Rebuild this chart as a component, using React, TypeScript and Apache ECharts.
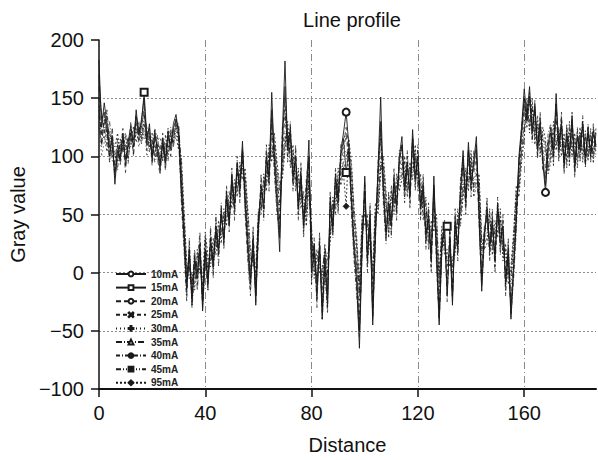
import React, { useEffect, useRef } from "react";
import * as echarts from "echarts";

const distance: number[] = Array.from({ length: 188 }, (_, i) => i);

const seriesNames = ["10mA", "15mA", "20mA", "25mA", "30mA", "35mA", "40mA", "45mA", "95mA"];

const s10 = [
  183,125,146,128,100,118,76,105,98,120,
  92,112,126,108,140,118,132,150,112,128,
  96,122,104,88,116,94,122,106,128,136,
  118,70,30,-15,20,-28,10,-5,25,-33,
  15,-10,30,5,40,15,55,25,70,40,
  85,55,95,70,113,60,20,-10,30,-28,
  40,75,55,100,80,155,95,60,18,120,
  182,105,125,80,100,55,85,40,70,114,
  0,20,-20,25,-40,10,-30,65,35,85,
  60,105,120,138,110,60,20,-10,-65,20,
  83,10,50,-45,30,90,151,70,30,60,
  40,80,55,100,117,70,95,65,123,80,
  100,55,75,30,50,10,83,15,-45,20,
  40,-20,30,-28,45,20,70,105,60,112,
  75,95,117,50,-16,30,55,20,45,10,
  60,25,40,-10,20,-40,0,45,100,125,
  158,135,160,120,145,105,130,95,69,110,
  125,100,154,105,130,92,120,100,135,90,
  118,105,130,95,125,100,122,108,
];

const s15 = [
  170,132,138,124,108,112,84,110,96,116,
  98,108,120,114,134,122,128,155,118,124,
  100,118,108,92,112,98,118,110,124,132,
  122,80,38,-8,15,-20,14,0,20,-25,
  20,-5,25,10,35,20,50,30,65,45,
  80,60,90,75,105,65,28,-5,25,-20,
  45,70,60,95,85,140,100,70,30,110,
  160,110,118,85,95,60,80,45,65,100,
  10,25,-10,20,-30,15,-20,60,40,80,
  65,100,115,86,105,65,25,0,-50,25,
  70,15,45,-35,35,85,130,75,35,55,
  45,75,60,95,110,75,90,70,115,85,
  95,60,70,35,45,15,75,20,-35,25,
  40,40,35,-20,40,25,65,95,65,105,
  80,90,110,55,-5,35,50,25,40,15,
  55,30,35,-5,15,-30,5,50,95,120,
  150,130,152,125,140,110,125,100,75,105,
  120,105,145,110,125,95,115,105,128,95,
  115,108,125,100,120,105,118,110,
];

const s20 = [
  150,110,132,120,95,125,88,100,108,114,
  86,118,120,102,130,112,126,138,105,120,
  92,116,98,84,110,90,118,100,120,128,
  112,65,25,-20,25,-22,5,0,30,-25,
  20,-15,35,0,45,20,50,30,60,45,
  78,50,90,65,105,55,15,-15,35,-20,
  35,80,50,105,75,130,90,55,40,115,
  150,100,120,75,105,50,90,35,75,95,
  -5,25,-25,30,-35,5,-25,55,40,80,
  55,100,110,125,100,55,15,-15,-55,25,
  75,5,55,-40,35,85,125,65,35,65,
  35,85,50,95,110,65,100,60,115,75,
  105,50,80,25,55,5,70,10,-40,25,
  35,-15,35,-20,50,15,75,100,55,105,
  70,100,105,45,-10,35,60,15,50,5,
  55,20,45,-15,25,-35,5,40,90,120,
  145,130,150,115,140,100,135,90,80,115,
  120,95,140,100,135,88,125,95,130,85,
  122,100,128,92,120,98,125,105,
];

const s25 = [
  140,118,128,136,104,108,82,98,104,124,
  96,106,130,100,136,114,128,142,108,116,
  102,114,110,94,120,88,114,112,122,130,
  115,75,35,-10,10,-20,15,-10,20,-28,
  25,-5,20,10,35,25,45,35,65,50,
  75,60,85,78,100,70,25,0,20,-15,
  50,65,65,90,90,120,105,75,45,100,
  135,115,110,90,90,65,75,50,60,90,
  15,15,-5,20,-25,20,-15,50,45,70,
  70,95,105,118,95,70,30,5,-40,30,
  65,25,40,-25,40,75,115,80,45,50,
  50,70,65,90,100,80,85,75,105,90,
  90,65,65,40,40,20,60,25,-30,30,
  30,-5,25,-15,35,30,60,90,70,95,
  85,85,100,60,0,40,45,30,35,20,
  50,35,30,0,10,-25,10,55,85,115,
  140,140,145,130,130,115,120,105,90,100,
  115,110,130,115,120,100,110,110,120,100,
  110,112,118,105,115,108,112,115,
];

const s30 = [
  130,100,112,125,96,104,90,102,110,118,
  104,100,115,110,125,108,120,130,100,112,
  108,110,96,100,106,100,110,104,115,125,
  110,85,45,0,15,-10,5,5,15,-15,
  30,0,15,15,30,30,40,40,55,55,
  70,65,80,80,95,75,35,10,15,-5,
  40,60,70,85,95,110,100,85,55,95,
  120,110,105,95,85,75,70,55,55,80,
  25,10,5,15,-15,15,-5,40,50,65,
  75,90,100,105,100,80,40,15,-25,35,
  55,35,35,-10,45,65,100,85,55,45,
  60,65,70,85,95,85,80,80,95,95,
  85,70,60,50,35,30,50,35,-15,25,
  35,5,20,0,30,40,55,80,75,85,
  90,80,90,70,15,35,40,40,30,30,
  45,40,25,10,5,-10,20,60,80,110,
  130,135,135,135,125,120,115,110,100,95,
  110,115,120,112,115,105,105,115,112,108,
  105,115,110,112,108,114,106,118,
];

const s35 = [
  160,135,120,140,112,96,95,115,92,110,
  110,98,118,122,128,126,115,135,125,108,
  115,100,118,95,104,110,102,120,112,132,
  125,90,40,-5,5,-15,20,-15,15,-20,
  30,5,10,20,25,35,35,45,50,60,
  65,70,75,85,90,80,40,5,15,-10,
  55,55,75,80,100,105,110,80,60,90,
  115,120,100,100,80,80,65,60,50,85,
  30,5,10,10,-5,25,0,35,55,60,
  80,85,95,100,105,85,45,20,-20,40,
  50,40,30,-5,50,60,95,90,60,40,
  65,60,75,80,90,90,75,85,90,100,
  80,75,55,55,30,35,45,40,-10,30,
  25,10,15,5,25,45,50,75,80,80,
  95,75,85,75,20,30,35,45,25,35,
  40,45,20,15,0,-5,25,65,75,105,
  125,140,130,140,120,125,110,115,105,90,
  105,120,115,118,110,110,100,120,108,112,
  100,118,105,116,104,118,102,120,
];

const s40 = [
  145,108,136,116,122,100,105,88,115,106,
  118,94,124,116,118,130,110,128,120,104,
  120,95,112,106,98,118,96,125,108,126,
  128,60,20,-25,30,-30,0,10,35,-30,
  10,-15,40,-5,50,5,60,20,75,35,
  90,45,100,60,108,50,10,-20,40,-25,
  30,85,45,110,70,135,85,50,35,125,
  140,95,130,70,110,45,95,30,80,100,
  -10,30,-30,35,-40,0,-35,70,30,90,
  50,110,115,120,115,50,10,-20,-50,15,
  80,0,60,-40,25,95,120,60,25,70,
  30,90,45,105,105,60,105,55,118,70,
  110,45,85,20,60,0,75,5,-42,15,
  45,-25,40,-25,55,10,80,100,50,108,
  65,105,105,40,-12,25,65,10,55,0,
  65,15,50,-20,30,-38,-5,35,95,125,
  150,125,155,112,148,98,138,88,85,120,
  128,92,145,95,138,85,128,92,138,82,
  125,95,135,90,128,95,128,100,
];

const s45 = [
  135,120,125,110,130,108,100,96,112,104,
  108,116,112,122,120,124,118,122,114,110,
  112,108,100,110,96,112,108,110,118,120,
  122,95,50,5,0,-5,-10,15,5,-10,
  20,10,10,25,20,40,30,50,45,65,
  60,75,70,90,85,85,50,15,10,0,
  45,55,80,75,105,100,115,90,70,85,
  110,125,95,105,75,85,60,65,45,80,
  35,0,15,5,0,20,10,30,60,55,
  85,80,90,95,110,90,50,25,-15,45,
  45,45,25,0,55,55,90,95,65,35,
  70,55,80,75,85,95,70,90,85,105,
  75,80,50,60,25,40,40,45,-5,35,
  20,15,10,10,20,50,45,70,85,75,
  100,70,80,80,25,25,30,50,20,40,
  35,50,15,20,-5,0,30,70,70,100,
  120,145,125,145,115,130,105,120,110,88,
  100,125,110,122,105,115,95,125,105,116,
  95,120,100,118,100,120,98,122,
];

const s95 = [
  125,112,118,104,118,115,108,120,100,112,
  120,110,108,126,112,120,126,115,122,118,
  104,124,114,116,108,104,124,115,110,118,
  105,100,55,10,-5,0,-15,20,0,-5,
  35,15,5,30,15,45,25,55,40,70,
  55,80,65,95,80,90,55,20,5,5,
  50,50,85,70,110,95,120,95,75,80,
  105,130,90,110,70,90,55,70,40,75,
  40,-5,20,0,5,15,15,25,65,50,
  90,75,85,57,115,95,55,30,-10,50,
  40,50,20,5,60,50,85,100,70,30,
  75,50,85,70,80,100,65,95,80,110,
  70,85,45,65,20,45,35,50,0,40,
  15,20,5,15,15,55,40,65,90,70,
  105,65,75,85,30,20,25,55,15,45,
  30,55,10,25,-10,5,35,75,65,95,
  115,150,120,150,110,135,100,125,115,85,
  95,130,105,125,100,120,90,130,100,120,
  90,125,95,122,96,124,94,125,
];

const seriesValues = [s10, s15, s20, s25, s30, s35, s40, s45, s95];

// indices of samples that carry a visible marker
const markerIndices: number[][] = [[93, 168], [17, 93, 131], [], [], [], [], [], [], [93]];

const yTicks = [-100, -50, 0, 50, 100, 150, 200];
const xTicks = [0, 40, 80, 120, 160];

const X_PATH = "path://M0,1L1,0L5,4L9,0L10,1L6,5L10,9L9,10L5,6L1,10L0,9L4,5Z";
const PLUS_PATH = "path://M4,0L6,0L6,4L10,4L10,6L6,6L6,10L4,10L4,6L0,6L0,4L4,4Z";

const styles = [
  { type: "solid", width: 0.9, symbol: "emptyCircle", size: 7 },
  { type: "solid", width: 0.8, symbol: "emptyRect", size: 7 },
  { type: [5, 3], width: 0.7, symbol: "emptyCircle", size: 4 },
  { type: [4, 3], width: 0.7, symbol: X_PATH, size: 6 },
  { type: [1, 3], width: 0.9, symbol: PLUS_PATH, size: 6 },
  { type: [6, 2, 1, 2], width: 0.7, symbol: "emptyTriangle", size: 6 },
  { type: [4, 2, 1, 2], width: 0.7, symbol: "circle", size: 5 },
  { type: [5, 2, 1, 2, 1, 2], width: 0.7, symbol: "rect", size: 5 },
  { type: [2, 2], width: 0.8, symbol: "diamond", size: 6 },
];

const FONT = "'Liberation Sans', Arial, sans-serif";

export default function App() {
  const ref = useRef<HTMLDivElement>(null);
  useEffect(() => {
    if (!ref.current) return;
    const chart = echarts.init(ref.current, undefined, { renderer: "svg" });
    const series = seriesNames.map((name, k) => {
      const st = styles[k];
      const vals = seriesValues[k];
      return {
        name,
        type: "line",
        showSymbol: true,
        showAllSymbol: true,
        symbol: st.symbol,
        symbolSize: st.size,
        silent: true,
        itemStyle: { color: "#1a1a1a", borderColor: "#1a1a1a", borderWidth: 1 },
        lineStyle: { color: "#1a1a1a", width: st.width, type: st.type },
        data: vals.map((v, i) => ({
          value: [distance[i], v],
          symbol: markerIndices[k].includes(i) ? st.symbol : "none",
        })),
      };
    });
    chart.setOption({
      animation: false,
      backgroundColor: "#ffffff",
      title: {
        text: "Line profile",
        left: 347,
        top: 5,
        textAlign: "center",
        textStyle: { fontFamily: FONT, fontSize: 20, fontWeight: "normal", color: "#111" },
      },
      legend: {
        data: seriesNames,
        orient: "vertical",
        left: 110,
        top: 263,
        itemWidth: 30,
        itemHeight: 6,
        itemGap: 1.6,
        textStyle: { fontFamily: FONT, fontSize: 10, fontWeight: "bold", color: "#222", lineHeight: 12 },
      },
      grid: { left: 98, right: 2, top: 40, bottom: 68, containLabel: false },
      xAxis: {
        type: "value",
        min: 0,
        max: 187,
        interval: 40,
        name: "Distance",
        nameLocation: "middle",
        nameGap: 46,
        nameTextStyle: { fontFamily: FONT, fontSize: 20, color: "#111" },
        axisLine: { show: true, onZero: false, lineStyle: { color: "#111", width: 2 } },
        axisTick: { show: true, inside: false, length: 8, lineStyle: { color: "#111", width: 1.5 } },
        axisLabel: {
          fontFamily: FONT,
          fontSize: 20,
          color: "#111",
          margin: 14,
          showMaxLabel: false,
          formatter: (v: number) => (xTicks.includes(v) ? String(v) : ""),
        },
        splitLine: {
          show: true,
          showMinLine: false,
          showMaxLine: false,
          lineStyle: { color: "#8a8a8a", width: 1, type: [7, 3, 1, 3] },
        },
      },
      yAxis: {
        type: "value",
        min: -100,
        max: 200,
        interval: 50,
        name: "Gray value",
        nameLocation: "middle",
        nameGap: 68,
        nameRotate: 90,
        nameTextStyle: { fontFamily: FONT, fontSize: 20, color: "#111" },
        axisLine: { show: true, onZero: false, lineStyle: { color: "#111", width: 1.5 } },
        axisTick: { show: true, inside: false, length: 8, lineStyle: { color: "#111", width: 1.5 } },
        axisLabel: {
          fontFamily: FONT,
          fontSize: 20,
          color: "#111",
          margin: 15,
          formatter: (v: number) => (yTicks.includes(v) ? String(v).replace("-", "\u2212") : ""),
        },
        splitLine: {
          show: true,
          showMinLine: false,
          showMaxLine: false,
          lineStyle: { color: "#8a8a8a", width: 1, type: [2, 2] },
        },
      },
      series,
    });
    return () => chart.dispose();
  }, []);
  return <div ref={ref} style={{ width: 598, height: 460, position: "absolute", left: 0, top: 0 }} />;
}
